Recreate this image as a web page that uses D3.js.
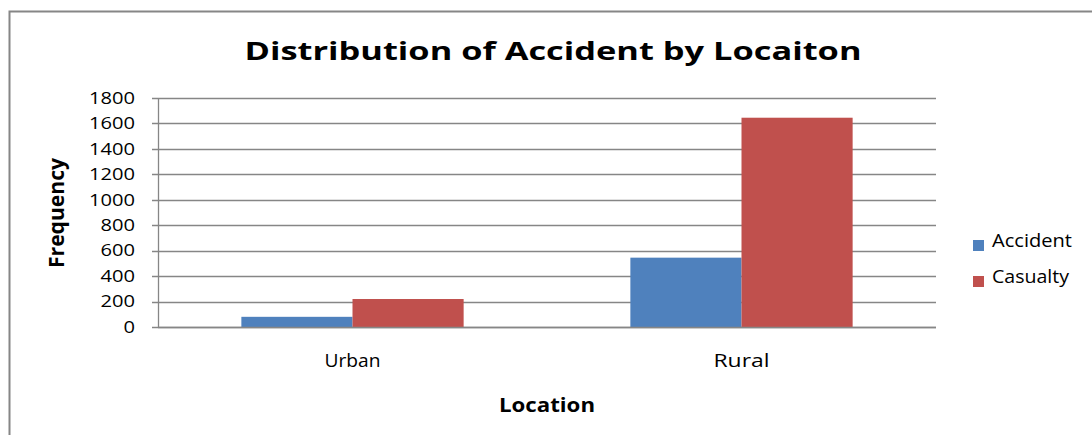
<!DOCTYPE html>
<html>
<head>
<meta charset="utf-8">
<script src="https://cdn.jsdelivr.net/npm/d3@7"></script>
<style>
  html, body { margin: 0; padding: 0; background: #fff; }
  svg { display: block; }
  text { font-family: "Open Sans", "Noto Sans", sans-serif; fill: #000; }
</style>
</head>
<body>
<svg id="chart" width="1092" height="435"></svg>
<script>
// Chart data
const categories = ["Urban", "Rural"];
const seriesNames = ["Accident", "Casualty"];
const accidentValues = [80, 545];
const casualtyValues = [220, 1645];
const yTicks = [0, 200, 400, 600, 800, 1000, 1200, 1400, 1600, 1800];
const seriesColors = ["#4f81bd", "#c0504d"];

const svg = d3.select("#chart");
const W = 1092, H = 435;

// outer chart frame (extends past the right/bottom edge)
svg.append("rect")
  .attr("x", 9.5).attr("y", 11.5)
  .attr("width", W + 20).attr("height", H + 20)
  .attr("fill", "#fff").attr("stroke", "#868686").attr("stroke-width", 2);

const plot = { left: 158, right: 936, top: 98, bottom: 327 };

const x0 = d3.scaleBand()
  .domain(categories)
  .range([plot.left, plot.right])
  .paddingInner(0.4286)
  .paddingOuter(0.2143);

const x1 = d3.scaleBand()
  .domain(seriesNames)
  .range([0, x0.bandwidth()]);

const y = d3.scaleLinear()
  .domain([0, 1800])
  .range([plot.bottom, plot.top]);

// horizontal gridlines
svg.append("g")
  .selectAll("line")
  .data(yTicks)
  .join("line")
  .attr("x1", plot.left - 6)
  .attr("x2", plot.right)
  .attr("y1", d => Math.round(y(d)) + 0.5)
  .attr("y2", d => Math.round(y(d)) + 0.5)
  .attr("stroke", "#868686")
  .attr("stroke-width", 1.3);

// vertical axis line
svg.append("line")
  .attr("x1", plot.left + 0.5).attr("x2", plot.left + 0.5)
  .attr("y1", plot.top).attr("y2", plot.bottom)
  .attr("stroke", "#868686").attr("stroke-width", 1.3);

// y tick labels (wide digit face)
svg.append("g")
  .selectAll("text")
  .data(yTicks)
  .join("text")
  .attr("x", 135)
  .attr("y", d => y(d))
  .attr("dy", "0.36em")
  .attr("text-anchor", "end")
  .attr("font-size", 16)
  .attr("fill", "#111")
  .attr("textLength", d => String(d).length * 11.5)
  .attr("lengthAdjust", "spacingAndGlyphs")
  .text(d => d);

// bars
const rows = categories.map((c, i) => ({
  category: c,
  values: [
    { series: seriesNames[0], value: accidentValues[i] },
    { series: seriesNames[1], value: casualtyValues[i] }
  ]
}));

const color = d3.scaleOrdinal().domain(seriesNames).range(seriesColors);

svg.append("g")
  .selectAll("g")
  .data(rows)
  .join("g")
  .attr("transform", d => `translate(${x0(d.category)},0)`)
  .selectAll("rect")
  .data(d => d.values)
  .join("rect")
  .attr("x", d => x1(d.series))
  .attr("width", x1.bandwidth())
  .attr("y", d => y(d.value))
  .attr("height", d => y(0) - y(d.value))
  .attr("fill", d => color(d.series));

// x-axis baseline drawn over bars
svg.append("line")
  .attr("x1", plot.left).attr("x2", plot.right)
  .attr("y1", Math.round(y(0)) + 0.5).attr("y2", Math.round(y(0)) + 0.5)
  .attr("stroke", "#868686").attr("stroke-width", 1.3);

// category labels
svg.append("g")
  .selectAll("text")
  .data(categories)
  .join("text")
  .attr("x", d => x0(d) + x0.bandwidth() / 2)
  .attr("y", 367)
  .attr("text-anchor", "middle")
  .attr("font-size", 18)
  .attr("fill", "#222")
  .attr("textLength", d => d.length * 11.2)
  .attr("lengthAdjust", "spacingAndGlyphs")
  .text(d => d);

// title
svg.append("text")
  .attr("x", 553).attr("y", 60)
  .attr("text-anchor", "middle")
  .attr("font-size", 25)
  .attr("font-weight", "bold")
  .attr("textLength", 617)
  .attr("lengthAdjust", "spacingAndGlyphs")
  .text("Distribution of Accident by Locaiton");

// axis titles
svg.append("text")
  .attr("transform", "translate(64,213) rotate(-90)")
  .attr("text-anchor", "middle")
  .attr("font-size", 21)
  .attr("font-weight", "bold")
  .attr("textLength", 110)
  .attr("lengthAdjust", "spacingAndGlyphs")
  .text("Frequency");

svg.append("text")
  .attr("x", 547).attr("y", 412)
  .attr("text-anchor", "middle")
  .attr("font-size", 20)
  .attr("font-weight", "bold")
  .attr("textLength", 96)
  .attr("lengthAdjust", "spacingAndGlyphs")
  .text("Location");

// legend
const legendLengths = [80, 77];
const legend = svg.append("g")
  .selectAll("g")
  .data(seriesNames)
  .join("g")
  .attr("transform", (d, i) => `translate(973,${240 + i * 36})`);

legend.append("rect")
  .attr("width", 11).attr("height", 11)
  .attr("fill", d => color(d));

legend.append("text")
  .attr("x", 19).attr("y", 7)
  .attr("font-size", 18)
  .attr("fill", "#222")
  .attr("textLength", (d, i) => legendLengths[i])
  .attr("lengthAdjust", "spacingAndGlyphs")
  .text(d => d);
</script>
</body>
</html>
